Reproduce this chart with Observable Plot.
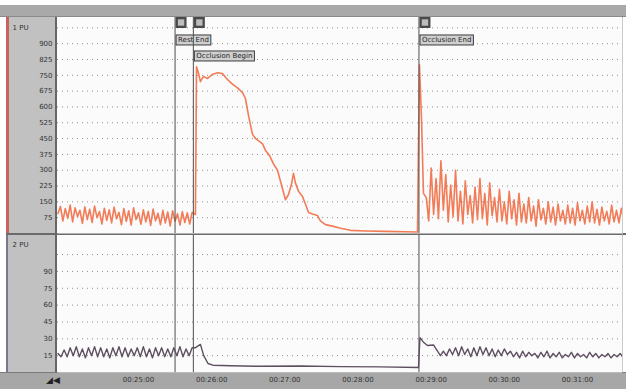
<!DOCTYPE html>
<html><head><meta charset="utf-8">
<script src="https://cdn.jsdelivr.net/npm/d3@7"></script>
<script src="https://cdn.jsdelivr.net/npm/@observablehq/plot@0.6"></script>
<style>
html,body{margin:0;padding:0;background:#fff;}
#wrap{position:relative;width:626px;height:389px;overflow:hidden;background:#fff;font-family:"DejaVu Sans",sans-serif;}
.c{position:absolute;}
</style></head><body>
<div id="wrap">
  <div class="c" style="left:0;top:5px;width:626px;height:12px;background:#a9a9a9;border-bottom:1px solid #8a8a8a;box-sizing:border-box"></div>
  <div class="c" style="left:6px;top:17px;width:50px;height:355px;background:#c1c1c1"></div>
  <div class="c" style="left:6px;top:17px;width:3px;height:216px;background:#c8625c"></div>
  <div class="c" style="left:6px;top:235px;width:2px;height:137px;background:#7a7590"></div>
  <div class="c" style="left:55px;top:17px;width:2px;height:355px;background:#666"></div>
  <div class="c" style="left:6px;top:233px;width:620px;height:2px;background:#6a6a6a"></div>
  <div class="c" style="left:622px;top:17px;width:1px;height:355px;background:#999"></div>
  <div class="c" style="left:0;top:372px;width:626px;height:17px;background:#a7a7a7;border-top:1px solid #7a7a7a;box-sizing:border-box"></div>
  <div class="c" style="left:46px;top:375px;font-size:9px;color:#222;">◢◀</div>
  <div id="p1" class="c" style="left:0;top:17px"></div>
  <div id="p2" class="c" style="left:0;top:233px"></div>
</div>
<script>
// ---- time axis (seconds) ----
const xDomain = [1433.6, 1896.9];
const xTicks = [1500, 1560, 1620, 1680, 1740, 1800, 1860];
const xTickLabels = ["00:25:00", "00:26:00", "00:27:00", "00:28:00", "00:29:00", "00:30:00", "00:31:00"];

// ---- y ticks ----
const topYTicks = [75, 150, 225, 300, 375, 450, 525, 600, 675, 750, 825, 900];
const topGrid = [75, 150, 225, 300, 375, 450, 525, 600, 675, 750, 825, 900, 975];
const botYTicks = [15, 30, 45, 60, 75, 90];
const botGrid = [15, 30, 45, 60, 75, 90, 105];

// ---- events ----
const eventNames = ["Rest End", "Occlusion Begin", "Occlusion End"];
const eventTimes = [1530, 1545, 1730];
const eventRows = [0, 1, 0];

// ---- channel 1 PU (top) ----
const topBaseStart = 1434, topBaseStep = 2;
const topBase = [95, 128, 60, 118, 72, 135, 55, 122, 80, 110,
  48, 126, 66, 115, 52, 130, 75, 104, 45, 120,
  62, 112, 50, 125, 70, 100, 42, 118, 58, 108,
  40, 122, 66, 98, 44, 112, 55, 105, 38, 116,
  60, 96, 42, 110, 50, 102, 36, 108, 58, 94,
  40, 104, 52, 98, 45, 100];
const topOcclTime = [1546.7, 1547.6, 1549.2, 1550.8, 1553.3, 1556.6, 1560.7, 1564.8, 1568.9, 1572.2,
  1576.3, 1581.2, 1585.3, 1587.7, 1590.2, 1593.5, 1596.0, 1598.4, 1601.7, 1604.1,
  1607.4, 1610.7, 1614.0, 1617.3, 1620.5, 1623.0, 1625.5, 1627.1, 1628.7, 1631.2,
  1634.5, 1636.9, 1639.4, 1642.7, 1646.8, 1649.2, 1653.3, 1659.1, 1665.6, 1673.8,
  1686.1, 1702.5, 1718.9, 1728.8, 1730.4, 1732.1, 1733.7];
const topOcclValue = [90, 790, 760, 720, 745, 735, 755, 762, 758, 735,
  712, 690, 668, 640, 560, 470, 450, 440, 425, 395,
  370, 330, 300, 230, 160, 185, 235, 285, 240, 200,
  175, 140, 100, 92, 85, 60, 42, 35, 25, 15,
  12, 10, 8, 7, 800, 540, 190];
const topPostStart = 1736, topPostStep = 2;
const topPost = [170, 60, 310, 90, 260, 70, 345, 110, 280, 55, 230, 80, 300, 60, 200, 45, 250, 90, 180, 50,
  220, 65, 260, 70, 190, 40, 240, 85, 170, 55, 210, 60, 150, 45, 200, 70, 160, 40, 190, 55,
  140, 50, 170, 60, 130, 35, 160, 65, 120, 45, 150, 55, 125, 40, 140, 60, 110, 45, 135, 50,
  120, 40, 145, 60, 110, 45, 130, 55, 150, 50, 115, 40, 125, 60, 105, 45, 135, 55, 110, 50,
  120, 60, 95];

// ---- channel 2 PU (bottom) ----
const botBaseStart = 1434, botBaseStep = 2.5;
const botBase = [17, 14, 20, 14, 22, 15, 23, 14, 21, 13,
  22, 15, 23, 14, 22, 14, 21, 13, 22, 15,
  23, 14, 22, 14, 21, 15, 22, 14, 23, 14,
  21, 13, 22, 15, 22, 14, 21, 14, 22, 15,
  23, 14, 21, 15, 22];
const botOcclTime = [1546.5, 1550.8, 1553.5, 1557, 1561, 1575.4, 1600, 1632.8, 1665.6, 1698.4, 1729.6, 1730.8, 1733.7, 1737, 1741.9, 1745.2, 1747.6];
const botOcclValue = [22, 25, 15, 8, 6.5, 6, 5.5, 5.8, 5.2, 5, 4.5, 31, 27, 24, 24.5, 19, 15];
const botPostStart = 1750, botPostStep = 2.5;
const botPost = [19, 15, 21, 16, 22, 15, 23, 16, 21, 14,
  22, 15, 23, 16, 22, 15, 21, 14, 20, 15,
  21, 16, 19, 14, 18, 13, 19, 14, 18, 15,
  17, 13, 18, 14, 19, 13, 17, 14, 18, 13,
  16, 14, 18, 13, 17, 14, 16, 13, 18, 14,
  17, 13, 16, 14, 17, 13, 16, 14, 17, 13, 16];

// ---- build tables ----
const topSeries = [
  ...topBase.map((v, i) => ({t: topBaseStart + i * topBaseStep, v})),
  ...topOcclTime.map((t, i) => ({t, v: topOcclValue[i]})),
  ...topPost.map((v, i) => ({t: topPostStart + i * topPostStep, v}))
];
const botSeries = [
  ...botBase.map((v, i) => ({t: botBaseStart + i * botBaseStep, v})),
  ...botOcclTime.map((t, i) => ({t, v: botOcclValue[i]})),
  ...botPost.map((v, i) => ({t: botPostStart + i * botPostStep, v}))
];
const events = eventNames.map((name, i) => ({name, t: eventTimes[i], row: eventRows[i]}));

const baseStyle = {background: "transparent", fontFamily: "DejaVu Sans, sans-serif", fontSize: "7px", color: "#333", overflow: "visible"};

const p1 = Plot.plot({
  width: 626, height: 216, marginLeft: 57, marginRight: 4, marginTop: 0, marginBottom: 0,
  style: baseStyle,
  x: {domain: xDomain, axis: null, label: null},
  y: {domain: [0, 1024], label: null},
  marks: [
    Plot.frame({fill: "#fbfbfb", stroke: null}),
    Plot.ruleY(topGrid, {stroke: "#8c8c8c", strokeDasharray: "1,4", strokeWidth: 1}),
    Plot.axisY(topYTicks, {tickSize: 0, tickPadding: 5, label: null}),
    Plot.text(["1 PU"], {text: d => d, frameAnchor: "top-left", dx: -45, dy: 8, textAnchor: "start", fill: "#333"}),
    Plot.line(topSeries, {x: "t", y: "v", stroke: "#f27c58", strokeWidth: 1.6, strokeLinejoin: "round", clip: true}),
    Plot.text(events, {filter: d => d.row === 0, x: "t", text: "name", frameAnchor: "top", dy: 19.5, dx: 3, textAnchor: "start", fill: "#1e1e1e"}),
    Plot.text(events, {filter: d => d.row === 1, x: "t", text: "name", frameAnchor: "top", dy: 35.5, dx: 3, textAnchor: "start", fill: "#1e1e1e"}),
    Plot.ruleX(events, {x: "t", stroke: "#4e4e4e", strokeWidth: 1}),
    Plot.dot(events, {x: "t", frameAnchor: "top", dx: 6, dy: 5, symbol: "square", r: 6.2, fill: "#4a4a4a", stroke: null}),
    Plot.dot(events, {x: "t", frameAnchor: "top", dx: 6, dy: 5, symbol: "square", r: 3.6, fill: "#bdbdbd", stroke: null})
  ]
});

const p2 = Plot.plot({
  width: 626, height: 156, marginLeft: 57, marginRight: 4, marginTop: 2, marginBottom: 17,
  style: baseStyle,
  x: {domain: xDomain, label: null},
  y: {domain: [0, 122], label: null},
  marks: [
    Plot.frame({fill: "#fbfbfb", stroke: null}),
    Plot.ruleY(botGrid, {stroke: "#8c8c8c", strokeDasharray: "1,4", strokeWidth: 1}),
    Plot.axisY(botYTicks, {tickSize: 0, tickPadding: 5, label: null}),
    Plot.axisX(xTicks, {tickSize: 0, tickPadding: 5, label: null, tickFormat: d => xTickLabels[xTicks.indexOf(d)]}),
    Plot.text(["2 PU"], {text: d => d, frameAnchor: "top-left", dx: -45, dy: 7, textAnchor: "start", fill: "#333"}),
    Plot.ruleX(events, {x: "t", stroke: "#4e4e4e", strokeWidth: 1}),
    Plot.line(botSeries, {x: "t", y: "v", stroke: "#5e4f60", strokeWidth: 1.4, strokeLinejoin: "round", clip: true})
  ]
});

document.getElementById("p1").appendChild(p1);
document.getElementById("p2").appendChild(p2);

// label boxes behind the event labels
const svgns = "http://www.w3.org/2000/svg";
p1.querySelectorAll("text").forEach(t => {
  if (!eventNames.includes(t.textContent)) return;
  const b = t.getBBox();
  const r = document.createElementNS(svgns, "rect");
  r.setAttribute("x", b.x - 2);
  r.setAttribute("y", b.y - 1);
  r.setAttribute("width", b.width + 4);
  r.setAttribute("height", b.height + 2);
  r.setAttribute("fill", "#cfcfcf");
  r.setAttribute("stroke", "#3c3c3c");
  r.setAttribute("stroke-width", "1");
  const tr = t.getAttribute("transform");
  if (tr) r.setAttribute("transform", tr);
  t.parentNode.insertBefore(r, t);
});
</script>
</body></html>
